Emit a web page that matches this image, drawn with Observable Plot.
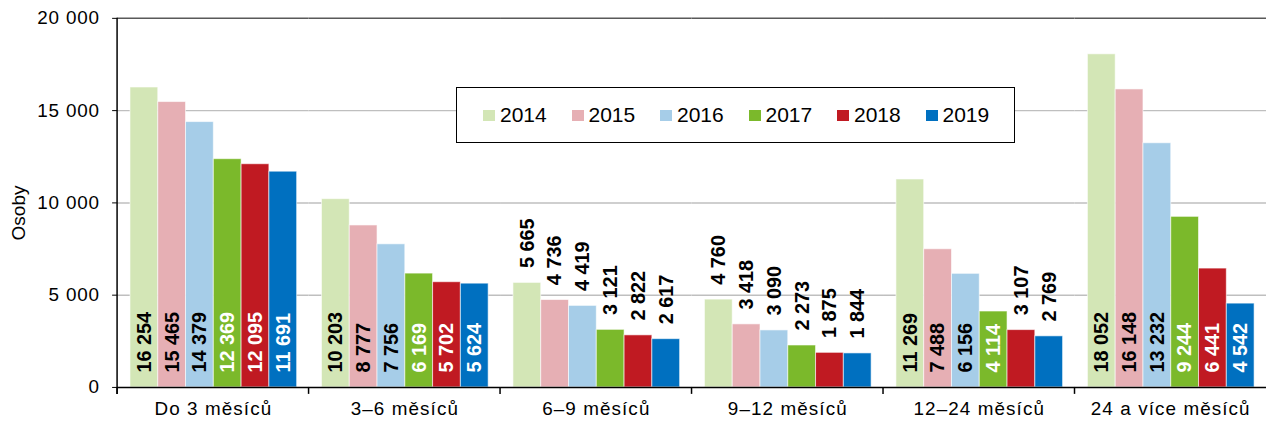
<!DOCTYPE html>
<html><head><meta charset="utf-8">
<script src="https://cdn.jsdelivr.net/npm/d3@7"></script>
<script src="https://cdn.jsdelivr.net/npm/@observablehq/plot@0.6"></script>
<style>
html,body{margin:0;padding:0;background:#fff;overflow:hidden;}
#wrap{position:relative;width:1266px;height:428px;overflow:hidden;font-family:"Liberation Sans",Arial,sans-serif;color:#000;}
#legend{position:absolute;left:456px;top:87px;width:559px;height:56px;border:1.5px solid #000;box-sizing:border-box;background:#fff;display:flex;align-items:center;padding-left:26px;}
.item{display:flex;align-items:center;width:89.6px;font-size:21px;}
.sw{width:12px;height:11px;margin-right:5px;}
#ylabel{position:absolute;left:19px;top:213px;transform:translate(-50%,-50%) rotate(-90deg);font-size:19px;white-space:nowrap;}
g[aria-label="y-axis tick label"] text{letter-spacing:0.8px;}
g[aria-label="fx-axis tick label"] text{letter-spacing:1.1px;}
</style></head>
<body>
<div id="wrap"><div id="chart"></div><div id="ylabel">Osoby</div><div id="legend"></div></div>
<script>
const categories = ["Do 3 měsíců","3–6 měsíců","6–9 měsíců","9–12 měsíců","12–24 měsíců","24 a více měsíců"];
const years = ["2014","2015","2016","2017","2018","2019"];
const v2014 = [16254,10203,5665,4760,11269,18052];
const v2015 = [15465,8777,4736,3418,7488,16148];
const v2016 = [14379,7756,4419,3090,6156,13232];
const v2017 = [12369,6169,3121,2273,4114,9244];
const v2018 = [12095,5702,2822,1875,3107,6441];
const v2019 = [11691,5624,2617,1844,2769,4542];
const yTicks = [0,5000,10000,15000,20000];
const colors = ["#d3e6b6","#e6afb4","#a6cde8","#7bb92b","#c01a22","#0070c0"];
const darkLabelYears = ["2014","2015","2016"];
const outsideCategories = ["6–9 měsíců","9–12 měsíců"];
const insideMin = 4000;

const series = [v2014,v2015,v2016,v2017,v2018,v2019];
const rows = [];
categories.forEach((cat, i) => years.forEach((year, j) => {
  const value = series[j][i];
  rows.push({cat, year, value, inside: value >= insideMin && !outsideCategories.includes(cat)});
}));
const fmt = d => d3.format(",")(d).replace(/,/g, "\u00a0");

const labelOpts = {fx: "cat", x: "year", text: d => fmt(d.value), rotate: -90, textAnchor: "start", dy: -15, fontSize: 20, fontWeight: "bold"};

const plot = Plot.plot({
  width: 1276, height: 428,
  marginLeft: 117, marginRight: 0, marginTop: 18, marginBottom: 38,
  style: {fontFamily: '"Liberation Sans", Arial, sans-serif', fontSize: "18px", color: "#000", background: "transparent"},
  fx: {domain: categories, padding: 0, label: null},
  x: {domain: years, paddingInner: 0, paddingOuter: 0.38, axis: null},
  y: {domain: [0, 20000]},
  color: {domain: years, range: colors},
  marks: [
    Plot.ruleY(yTicks.filter(t => t > 0 && t < 20000), {stroke: "#bfbfbf", strokeWidth: 1.5}),
    Plot.barY(rows, {fx: "cat", x: "year", y: "value", fill: "year", stroke: "#fff", strokeWidth: 1, strokeOpacity: 0.6}),
    Plot.ruleY([20000], {stroke: "#595959", strokeWidth: 1.5}),
    Plot.ruleY([0], {stroke: "#000", strokeWidth: 1.5}),
    Plot.text(rows.filter(d => d.inside && darkLabelYears.includes(d.year)), {...labelOpts, y: () => 0, fill: "#000"}),
    Plot.text(rows.filter(d => d.inside && !darkLabelYears.includes(d.year)), {...labelOpts, y: () => 0, fill: "#fff"}),
    Plot.text(rows.filter(d => !d.inside), {...labelOpts, y: "value", fill: "#000"}),
    Plot.axisY({ticks: yTicks, tickFormat: fmt, tickSize: 5, tickPadding: 13, label: null, fontSize: 19}),
    Plot.axisFx({anchor: "bottom", tickSize: 0, tickPadding: 14, label: null, fontSize: 19})
  ]
});
document.getElementById("chart").appendChild(plot);

// axis line and group-boundary ticks from the library's scales
const svgEl = plot.tagName.toLowerCase() === "svg" ? plot : plot.querySelector("svg");
const fxS = plot.scale("fx"), yS = plot.scale("y");
const y0 = yS.apply(0), yTop = yS.apply(20000);
const g = d3.select(svgEl).append("g").attr("stroke", "#000").attr("stroke-width", 1.5);
const xl = fxS.apply(categories[0]);
g.append("line").attr("x1", xl).attr("x2", xl).attr("y1", yTop).attr("y2", y0 + 7);
categories.forEach(c => {
  const x = fxS.apply(c);
  g.append("line").attr("x1", x).attr("x2", x).attr("y1", y0).attr("y2", y0 + 7);
});

// legend
const legend = document.getElementById("legend");
years.forEach((y, i) => {
  const it = document.createElement("div"); it.className = "item";
  const sw = document.createElement("span"); sw.className = "sw"; sw.style.background = colors[i];
  const tx = document.createElement("span"); tx.textContent = y;
  it.appendChild(sw); it.appendChild(tx); legend.appendChild(it);
});
</script>
</body></html>
